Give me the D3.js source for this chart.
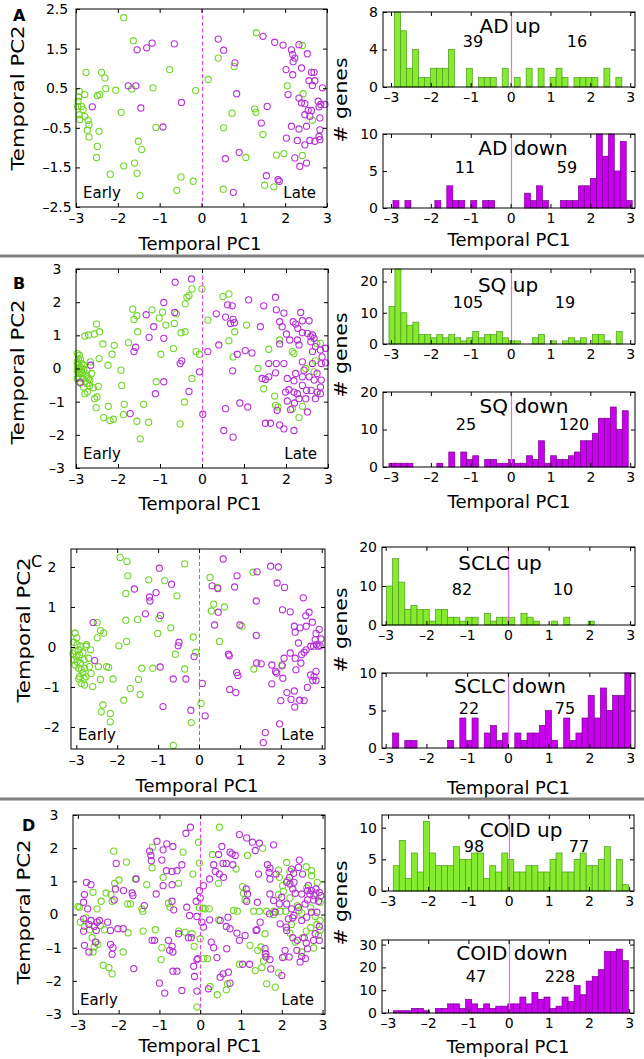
<!DOCTYPE html>
<html><head><meta charset="utf-8">
<script src="https://cdn.jsdelivr.net/npm/d3@7"></script>
<style>body{margin:0;background:#fff} text{font-family:"DejaVu Sans",sans-serif}</style>
</head><body><svg id="c" width="644" height="1059"></svg>
<script>
// ---------------- DATA ----------------
const panelLetters = ["A","B","C","D"];
const histNames = ["AD","SQ","SCLC","COID"];
const upTotals = [[39,16],[105,19],[82,10],[98,77]];
const downTotals = [[11,59],[25,120],[22,75],[47,228]];
const xTicks = [-3,-2,-1,0,1,2,3];
const scatterYTicks = [[2.5,1.5,0.5,-0.5,-1.5,-2.5],[3,2,1,0,-1,-2,-3],[2,1,0,-1,-2],[3,2,1,0,-1,-2,-3]];
const histUpYTicks = [[0,4,8],[0,10,20],[0,10,20],[0,5,10]];
const histDownYTicks = [[0,5,10],[0,10,20],[0,5,10],[0,10,20,30]];
const histUpYMax = [8,24,20,12];
const histDownYMax = [10,20,10,32];
const binWidth = 0.15;
const histUpStart = [-2.91,-3.05,-2.98,-2.87];
const histDownStart = [-2.95,-3.05,-2.98,-2.87];

const histUpA = [8,6,2,4,1,1,2,2,2,4,0,0,2,0,1,1,1,0,2,0,1,0,2,0,2,0,1,2,1,0,1,1,1,1,0,2,0,1,0,0];
const histDownA = [1,0,1,0,0,0,0,1,0,3,1,1,0,1,0,1,1,0,0,0,0,0,2,1,3,1,0,0,1,1,1,3,3,4,10,7,10,5,9,1];
const histUpB = [12,24,10,6,7,3,3,2,3,2,3,2,1,2,4,2,3,3,4,2,1,1,0,0,2,3,0,1,0,1,2,1,2,0,3,3,1,0,4,0];
const histDownB = [1,1,1,1,0,0,0,0,1,0,4,0,4,2,3,0,2,2,1,1,2,1,1,3,2,7,1,3,2,2,3,4,7,7,9,13,13,16,10,15];
const histUpC = [10,17,11,4,5,4,4,1,4,4,2,2,1,2,2,0,3,1,2,2,2,0,3,2,1,0,0,1,0,2,0,0,0,1,0,0,0,0,0,0];
const histDownC = [0,2,0,1,1,0,0,0,0,0,1,0,4,1,4,0,2,3,1,2,0,2,1,2,2,3,5,1,0,4,1,2,4,7,4,8,5,7,7,10];
const histUpD = [4,8,2,6,3,11,6,4,4,4,7,5,5,6,6,2,4,3,6,5,3,3,4,4,3,3,5,6,3,3,5,6,4,4,5,7,0,5,1,0];
const histDownD = [1,1,1,2,2,1,0,2,2,4,4,2,6,4,2,4,2,3,3,4,4,7,4,9,6,7,2,3,7,5,12,8,14,16,19,27,27,28,23,0];

const upA = [[-1.86,2.28],[-1.63,1.70],[-0.76,0.97],[0.16,0.72],[-0.14,0.44],[-1.16,0.51],[-2.05,0.45],[-1.67,0.48],[-2.76,0.90],[-2.39,0.90],[-2.31,0.76],[-2.29,0.49],[-2.43,0.34],[-2.49,0.31],[-2.79,0.34],[-2.92,0.42],[-2.94,0.28],[-2.95,0.17],[-2.87,0.04],[-2.83,-0.04],[-2.96,0.04],[-2.92,-0.17],[-2.91,-0.29],[-2.79,-0.21],[-2.71,-0.31],[-2.69,-0.42],[-2.73,-0.56],[-2.69,-0.73],[-2.45,-0.59],[-2.49,-0.97],[-2.51,-1.25],[-1.51,-0.84],[-1.43,-1.05],[-1.92,-0.11],[-1.09,-0.49],[-1.60,-1.39],[-1.86,-1.46],[-2.18,-1.67],[-1.54,-1.65],[-0.49,-1.74],[-0.20,-1.85],[-0.59,-2.08],[-1.47,-2.21],[1.31,1.90],[2.41,1.58],[0.40,1.26],[0.78,1.05],[0.73,-0.13],[0.53,-0.50],[1.27,-0.02],[1.30,-0.11],[1.47,-0.67],[1.79,-1.19],[1.97,-1.15],[1.51,-1.95],[1.73,-1.99],[0.52,-2.05],[2.05,0.56],[2.43,0.36],[2.65,-0.31],[2.41,-1.20],[1.06,-1.25]];
const downA = [[-1.54,1.47],[-1.31,1.52],[-1.18,1.64],[-0.65,1.62],[-1.75,0.56],[-1.57,0.56],[-2.61,0.03],[-1.45,0.0],[-0.48,0.14],[-0.92,-0.48],[0.40,1.74],[0.53,1.46],[0.80,1.14],[0.84,0.36],[0.90,-1.12],[0.57,-1.28],[0.76,-2.13],[1.55,-1.71],[1.83,-1.81],[1.86,-1.85],[1.57,0.04],[1.43,-0.38],[1.47,1.81],[1.75,1.66],[1.95,1.59],[2.15,1.47],[2.18,1.35],[2.23,1.26],[2.19,1.17],[2.33,1.60],[2.53,1.37],[2.39,1.01],[2.02,0.97],[2.18,0.84],[2.63,0.90],[2.69,0.90],[2.57,0.69],[2.71,0.69],[2.65,0.57],[2.89,0.51],[2.07,0.34],[2.33,0.25],[2.39,0.13],[2.47,0.11],[2.55,-0.06],[2.63,-0.06],[2.79,0.17],[2.85,0.09],[2.95,0.09],[2.81,0.03],[2.47,-0.17],[2.59,-0.21],[2.83,-0.25],[2.15,-0.46],[2.33,-0.53],[2.51,-0.46],[2.83,-0.55],[2.03,-0.76],[2.29,-0.82],[2.47,-0.93],[2.59,-0.82],[2.71,-0.84],[2.81,-0.72],[2.83,-0.80],[2.23,-1.26],[2.35,-1.47],[2.51,-1.39]];

const upB = [[-0.24,2.40],[0.00,2.40],[-0.36,2.15],[-0.31,2.20],[0.50,2.17],[0.64,2.25],[-0.40,1.95],[-1.65,1.79],[-1.19,1.77],[-0.94,1.70],[-0.61,1.65],[-1.02,1.52],[0.14,1.46],[-1.55,1.59],[-1.62,1.48],[-0.86,1.31],[-0.66,1.36],[-1.53,1.11],[-2.51,1.34],[-2.70,1.01],[-2.79,0.98],[-2.56,1.04],[-2.44,1.11],[-0.50,1.08],[-0.40,1.11],[1.06,1.31],[0.78,1.11],[0.64,0.84],[-1.75,0.78],[-2.36,0.74],[-2.09,0.70],[-2.14,0.43],[-0.98,0.43],[-0.68,0.60],[-0.14,0.51],[-0.06,0.43],[-2.45,0.30],[-2.66,0.20],[-2.24,0.10],[-1.93,-0.05],[-1.91,-0.51],[-1.09,-0.40],[-0.24,-0.30],[-2.47,-0.54],[-2.68,-0.51],[-2.50,-0.86],[-2.56,-0.91],[-2.73,-0.71],[-2.79,-0.76],[-2.52,-1.18],[-2.23,-1.14],[-1.85,-1.08],[-1.39,-1.08],[-1.87,-1.39],[-2.34,-1.48],[-2.19,-1.57],[-2.11,-1.53],[-1.55,-1.59],[-1.27,-1.62],[-0.52,-1.67],[-1.47,-2.12],[-0.42,-1.01],[0.74,0.35],[1.33,0.00],[1.47,-0.61],[1.59,0.58],[1.85,0.86],[2.15,0.51],[2.19,0.45],[1.73,-0.83],[1.75,-1.11],[1.81,-1.16],[2.15,-1.21],[2.39,-1.14],[2.31,-1.48],[2.47,0.00],[2.67,-0.10],[2.73,0.76],[2.82,0.76],[2.70,0.23],[-2.97,0.45],[-2.92,0.40],[-2.94,0.30],[-2.89,0.27],[-2.97,0.20],[-2.94,0.15],[-2.86,0.15],[-2.97,0.10],[-2.90,0.05],[-2.82,0.10],[-2.94,0.00],[-2.87,-0.03],[-2.97,-0.05],[-2.90,-0.10],[-2.81,-0.03],[-2.95,-0.15],[-2.86,-0.15],[-2.76,-0.20],[-2.94,-0.25],[-2.84,-0.30],[-2.73,-0.25],[-2.67,-0.35],[-2.78,-0.40],[-2.70,-0.30],[-2.63,-0.15],[-2.74,-0.05],[-2.59,-0.58],[-2.74,-0.45],[-2.82,-0.56],[-2.90,-0.40],[-2.97,-0.30]];
const downB = [[-0.64,2.60],[-0.25,2.70],[-0.91,1.99],[-1.33,1.62],[-0.65,1.69],[-1.15,1.26],[-1.26,0.94],[-0.91,0.91],[-1.58,0.64],[-1.62,0.51],[-0.48,0.23],[-0.52,0.15],[-0.06,-0.10],[-0.91,-0.40],[-1.11,-0.76],[-0.31,-0.69],[-1.71,-1.36],[0.02,-1.38],[-2.65,0.10],[-2.90,-0.43],[0.14,0.51],[0.34,1.65],[0.56,1.55],[0.61,1.92],[0.72,1.89],[0.74,1.48],[0.77,1.38],[0.68,1.36],[1.11,2.07],[1.47,1.89],[1.75,2.15],[1.77,1.77],[1.95,1.67],[1.85,1.41],[1.91,1.26],[1.39,1.26],[2.01,1.04],[1.85,0.74],[2.09,0.86],[2.17,1.41],[2.23,1.34],[2.35,1.69],[2.39,1.44],[2.55,1.44],[2.28,1.21],[2.39,1.08],[2.27,0.86],[2.31,0.71],[2.51,1.06],[2.59,0.96],[2.63,1.01],[2.67,0.91],[2.59,0.81],[2.70,0.66],[2.82,0.56],[2.94,0.61],[2.63,0.51],[2.86,0.35],[2.94,0.17],[2.84,0.15],[2.63,0.15],[2.39,0.20],[2.43,-0.05],[2.23,-0.15],[2.03,-0.30],[2.19,-0.37],[2.39,-0.25],[2.55,-0.25],[2.74,-0.15],[2.84,-0.35],[2.67,-0.35],[2.82,-0.56],[2.74,-0.71],[2.60,-0.66],[2.49,-0.66],[2.39,-0.51],[2.19,-0.71],[2.27,-0.76],[1.99,-0.71],[2.07,-0.64],[2.31,-0.91],[2.47,-0.91],[2.70,-0.91],[2.82,-0.76],[2.03,-0.98],[2.11,-1.24],[1.79,-1.26],[1.95,0.15],[1.77,0.15],[1.59,0.15],[1.75,-0.13],[1.59,-0.25],[1.43,-0.30],[1.51,-0.33],[0.84,0.43],[1.03,0.54],[1.19,0.47],[0.73,-0.07],[0.40,0.71],[0.90,-1.04],[1.09,-1.16],[0.56,-1.21],[1.51,-1.65],[1.63,-1.65],[1.85,-1.70],[1.95,-1.82],[2.19,-1.87],[0.52,-1.87],[0.74,-2.07],[2.51,-1.31],[2.20,-1.04]];

const upC = [[-1.93,2.24],[-1.76,2.14],[-0.35,2.08],[-1.74,1.78],[-1.23,1.68],[-0.84,1.66],[-1.79,1.34],[-0.54,1.28],[0.27,1.74],[0.45,1.49],[0.36,1.07],[0.62,1.00],[0.30,0.90],[1.32,1.87],[1.05,0.52],[-0.98,0.71],[-1.50,0.69],[-1.79,0.67],[-0.69,0.48],[-1.01,0.34],[-0.14,0.25],[0.50,0.14],[-0.08,-0.13],[-0.58,-0.18],[-1.77,0.14],[-1.96,0.03],[-2.49,0.61],[-2.41,0.41],[-2.33,0.35],[-2.49,0.23],[-2.75,0.06],[-2.65,-0.07],[-2.46,-0.49],[-2.60,-0.99],[-2.41,-0.81],[-2.26,-0.49],[-2.21,-0.51],[-2.10,-0.80],[-1.68,-1.04],[-1.48,-0.81],[-1.44,-1.19],[-1.40,-0.53],[-1.13,-0.53],[-0.35,-0.55],[-1.84,-1.33],[-2.35,-1.45],[-2.39,-1.62],[-2.17,-1.66],[-2.17,-1.87],[-0.19,-1.89],[0.05,-1.41],[-0.63,-2.46],[1.34,-0.55],[2.03,-0.44],[-3.03,0.35],[-2.99,0.23],[-3.06,0.12],[-2.98,0.06],[-2.90,0.02],[-2.94,-0.07],[-3.03,-0.11],[-3.08,-0.17],[-3.00,-0.24],[-2.92,-0.19],[-2.84,-0.15],[-3.06,-0.32],[-2.98,-0.36],[-2.90,-0.40],[-2.81,-0.32],[-3.03,-0.45],[-2.94,-0.53],[-2.88,-0.57],[-2.80,-0.53],[-2.76,0.02],[-2.70,-0.28],[-2.84,-0.64],[-2.92,-0.74],[-2.81,-0.78],[-2.94,-0.80],[-2.88,-0.91],[-2.80,-0.95],[-2.76,-0.74],[-2.64,-0.66],[-2.68,-0.49]];
const downC = [[0.59,2.20],[-0.97,1.97],[1.75,2.02],[1.94,2.00],[1.42,1.88],[0.93,1.78],[-0.67,1.57],[-1.58,1.45],[-1.05,1.36],[-1.21,1.25],[-1.20,1.15],[0.32,1.53],[0.46,1.46],[0.87,1.50],[1.91,1.60],[2.09,1.49],[-1.31,0.83],[-0.94,0.79],[0.47,0.87],[1.40,1.15],[2.04,0.93],[2.23,0.88],[2.55,1.23],[2.61,0.78],[2.69,0.87],[2.77,0.62],[0.38,0.55],[1.00,0.55],[1.40,0.29],[2.33,0.52],[2.47,0.48],[2.35,0.37],[2.62,0.52],[2.94,0.44],[2.86,0.34],[2.98,0.20],[2.84,0.18],[2.43,0.10],[2.80,0.02],[2.73,0.02],[2.96,0.03],[2.91,0.02],[2.87,0.06],[2.62,-0.07],[2.57,-0.13],[2.51,-0.19],[2.23,-0.15],[2.08,-0.28],[2.35,-0.28],[2.49,-0.40],[2.03,-0.47],[1.90,-0.65],[1.78,-0.45],[1.87,-0.61],[2.37,-0.57],[2.73,-0.70],[2.81,-0.74],[2.86,-0.61],[2.78,-0.84],[2.86,-0.84],[2.65,-1.01],[2.05,-0.78],[1.78,-0.92],[2.15,-1.14],[2.33,-1.10],[2.46,-1.33],[2.57,-1.34],[2.25,-1.31],[2.34,-1.50],[2.00,-1.34],[1.97,-1.92],[1.62,-2.14],[1.57,-2.39],[0.72,-0.18],[0.74,-0.22],[0.92,-0.64],[0.95,-0.71],[0.75,-1.06],[0.90,-1.14],[1.41,-0.40],[1.52,-0.42],[0.08,-0.91],[0.15,-1.72],[-0.12,-0.24],[-0.49,0.12],[-0.51,0.03],[-0.95,-0.50],[-0.63,-0.80],[-0.32,-0.80],[-0.88,-1.49],[-0.20,-1.58],[-2.59,0.61],[-2.55,-0.34]];

const upD = [[0.47,2.63],[-0.04,2.18],[-1.17,2.03],[-2.12,1.91],[-1.81,1.58],[-0.42,1.88],[0.30,1.81],[1.16,1.78],[1.53,2.00],[-0.02,1.55],[-1.18,1.41],[0.88,1.37],[-0.18,1.22],[-0.91,1.12],[-1.59,1.07],[-1.99,1.04],[-2.10,0.94],[-1.31,0.90],[-0.53,0.94],[0.45,0.94],[1.04,0.84],[-2.63,0.67],[-2.31,0.65],[-2.16,0.40],[-2.43,0.40],[-2.19,0.60],[-1.78,0.32],[-1.71,0.32],[-1.43,0.17],[-1.41,0.10],[-0.78,0.34],[-0.74,0.22],[-2.53,0.17],[-2.96,0.22],[-3.0,0.24],[-2.80,-0.10],[-2.94,-0.23],[-2.84,-0.36],[-2.71,-0.46],[-2.35,-0.46],[-2.45,-0.33],[-2.65,-0.70],[-2.55,-0.83],[-2.60,-0.98],[-2.51,-0.90],[-2.63,-1.13],[-1.89,-1.13],[-2.38,-1.53],[-2.24,-1.60],[-2.16,-1.79],[-1.77,-0.55],[-1.40,-0.50],[-1.10,-0.46],[-0.94,-1.00],[-0.96,-1.36],[-0.53,-0.50],[-0.37,-0.53],[-0.15,-0.96],[-0.20,-0.58],[0.0,-0.73],[-0.08,-2.79],[-0.02,0.20],[0.06,0.19],[0.12,0.17],[0.22,0.17],[0.45,-0.16],[0.08,-1.33],[0.18,-1.33],[0.24,-2.17],[0.42,-2.42],[0.64,-2.27],[0.67,-2.09],[0.96,-1.50],[1.35,-1.69],[1.51,-1.60],[1.63,-2.09],[1.84,-2.19],[1.92,-1.76],[1.55,-1.40],[1.59,-1.18],[1.49,-0.98],[1.10,0.44],[1.06,0.64],[0.91,0.10],[1.31,0.10],[1.45,0.10],[1.63,0.10],[1.81,0.10],[1.96,0.10],[2.10,0.10],[1.92,0.60],[2.02,0.87],[1.94,1.12],[1.92,1.34],[2.12,1.57],[2.20,1.30],[2.14,1.02],[2.04,0.70],[2.20,0.50],[2.38,0.27],[2.42,0.12],[2.49,0.04],[2.60,1.44],[2.73,1.32],[2.73,1.17],[2.87,0.97],[2.61,0.80],[2.84,0.64],[2.94,0.37],[2.71,0.20],[2.82,-0.06],[2.94,-0.18],[2.86,-0.30],[2.71,-0.40],[2.94,-0.48],[2.90,-0.63],[2.60,-0.50],[2.51,-0.70],[2.20,-0.56],[2.33,-0.83],[2.49,-1.13],[2.78,-1.01],[2.06,-1.28],[2.24,-0.30],[1.80,0.0],[1.59,-0.58],[1.41,-1.08],[1.22,-0.93],[0.82,0.12]];
const downD = [[-0.24,2.63],[-0.35,2.45],[0.96,2.41],[1.14,2.31],[1.28,2.18],[1.45,2.15],[1.80,2.10],[-1.06,2.21],[-0.82,2.13],[-0.67,2.05],[-1.24,1.91],[-1.21,1.78],[-0.91,1.95],[0.53,2.05],[0.73,1.88],[0.78,1.83],[0.86,1.78],[0.45,1.81],[1.35,1.93],[-0.94,1.64],[-0.45,1.50],[0.33,1.50],[0.56,1.54],[0.64,1.54],[0.80,1.50],[-2.06,1.54],[-1.20,1.62],[-0.83,1.32],[-0.69,1.30],[-0.57,1.32],[0.37,1.30],[0.47,1.22],[1.65,1.50],[1.71,1.40],[1.86,1.22],[1.43,1.22],[1.69,1.27],[1.71,1.07],[0.57,1.12],[0.23,1.07],[-1.57,1.07],[-2.79,0.97],[-2.68,0.90],[-0.91,0.87],[-0.69,0.90],[0.08,0.87],[-0.02,0.72],[1.13,0.77],[1.16,0.62],[-2.84,0.60],[-2.08,0.77],[-1.88,0.72],[-1.67,0.65],[-1.65,0.57],[-2.11,0.44],[-1.08,0.62],[-0.69,0.40],[-2.86,0.37],[-2.76,0.17],[-1.37,0.27],[-0.65,0.14],[-0.33,0.22],[-0.10,0.40],[0.0,0.50],[-0.26,-0.03],[-0.08,-0.06],[-2.86,-0.13],[-2.68,-0.18],[-2.53,-0.23],[-2.47,-0.18],[-2.73,-0.30],[-2.60,-0.36],[-2.86,-0.50],[-2.55,-0.48],[-2.20,-0.48],[-2.02,-0.43],[-1.89,-0.43],[-2.27,-0.23],[-2.84,-0.93],[-2.73,-1.13],[-2.57,-0.83],[-2.20,-0.90],[-2.14,-1.00],[-2.16,-1.20],[-1.63,-1.63],[-1.18,-0.78],[-1.12,-0.78],[-0.78,-0.78],[-0.69,-0.96],[-0.75,-1.08],[-0.67,-1.13],[-0.53,-0.58],[-0.29,-0.70],[-0.22,-0.70],[-1.00,-2.07],[-0.87,-2.37],[-0.45,-2.29],[-0.67,-1.71],[-0.57,-1.71],[-0.16,-1.56],[-0.14,-1.87],[-0.08,-2.31],[-0.06,-1.33],[-0.08,-1.36],[0.04,-0.23],[0.08,-0.38],[0.23,-0.16],[0.27,-0.83],[0.33,-1.00],[0.41,-1.30],[0.20,-2.24],[0.49,-1.89],[0.56,-1.79],[0.69,-1.74],[0.73,-2.07],[0.65,-1.03],[0.64,-0.36],[0.73,-0.43],[0.90,-0.56],[0.96,-0.78],[1.10,-0.63],[1.21,-1.50],[1.04,-1.50],[1.39,-0.46],[1.37,-0.48],[1.47,-0.23],[1.59,-1.03],[1.61,-1.18],[1.71,-1.36],[1.61,-1.28],[1.73,-1.64],[2.00,-1.84],[1.70,0.02],[1.84,0.07],[1.96,-0.28],[2.11,-0.38],[2.16,-0.13],[2.12,-0.48],[2.27,-0.70],[2.38,-0.78],[2.55,-0.70],[2.60,-0.86],[2.63,-1.03],[2.49,-1.26],[2.58,-1.33],[2.45,-1.43],[2.18,-1.28],[2.02,-1.30],[2.08,-1.08],[2.37,-1.08],[2.78,-0.78],[2.92,-0.78],[2.82,-0.58],[2.92,-0.36],[2.86,0.07],[2.73,0.07],[2.61,-0.08],[2.49,-0.18],[2.30,-0.03],[2.27,-0.10],[2.41,0.22],[2.24,0.17],[2.57,0.32],[2.63,0.44],[2.78,0.44],[2.90,0.40],[2.96,0.57],[2.92,0.67],[2.84,0.77],[2.73,0.72],[2.65,0.87],[2.63,0.72],[2.69,0.62],[2.79,0.57],[2.49,0.62],[2.33,0.64],[2.27,0.77],[2.20,0.92],[2.30,0.97],[2.19,1.12],[2.29,1.24],[2.24,1.37],[2.41,1.42],[2.51,1.22],[2.43,1.64],[2.12,0.97],[2.00,0.52],[1.94,0.32],[2.12,0.32],[1.71,0.62],[1.80,0.42],[1.40,0.37],[1.14,0.40],[0.68,-0.08],[0.49,-0.18]];

const scatterUp = [upA, upB, upC, upD];
const scatterDown = [downA, downB, downC, downD];
const histUp = [histUpA, histUpB, histUpC, histUpD];
const histDown = [histDownA, histDownB, histDownC, histDownD];

// ---------------- LAYOUT / STYLE ----------------
const COL = {
  green: "#72d628", magenta: "#b82fd8",
  gFill: "#86ea2e", gEdge: "#4c9a1c",
  mFill: "#c800ee", mEdge: "#7a0090",
  dash: "#f040d8", zero: "#e070e8"
};
const layout = [
  {sc:{l:76,r:327,t:9,b:207,xd:[-3,3],yd:[-2.5,2.5]}, ylab:{x:24,y:98}, xlabY:250, xlabX:200, pl:{x:13,y:21,bold:true},
   hl:{l:383,r:635}, hxd:[-3.2,3.12], hu:{t:12,b:87}, hd:{t:134,b:208}, genesY:100, hxlabY:246,
   tu:{x:510,y:33}, nu:{y:47,x:[473,577]}, td:{x:523,y:155}, nd:{y:173,x:[465,567]}},
  {sc:{l:76,r:328,t:269,b:468,xd:[-3,3],yd:[-3,3]}, ylab:{x:24,y:372}, xlabY:510, xlabX:200, pl:{x:13,y:289,bold:true},
   hl:{l:383,r:635}, hxd:[-3.2,3.12], hu:{t:269,b:344}, hd:{t:392,b:467}, genesY:355, hxlabY:508,
   tu:{x:508,y:292}, nu:{y:308,x:[468,565]}, td:{x:524,y:413}, nd:{y:430,x:[466,574]}},
  {sc:{l:71,r:325,t:549,b:749,xd:[-3.13,3.08],yd:[-2.55,2.45]}, ylab:{x:30,y:630}, xlabY:792, xlabX:197, pl:{x:31,y:567,bold:false},
   hl:{l:382,r:635}, hxd:[-3.09,3.12], hu:{t:547,b:625}, hd:{t:673,b:748}, genesY:630, hxlabY:794,
   tu:{x:500,y:570}, nu:{y:595,x:[462,563]}, td:{x:510,y:693}, nd:{y:714,x:[469,565]}},
  {sc:{l:73,r:325,t:815,b:1014,xd:[-3.12,3.06],yd:[-3,3]}, ylab:{x:30,y:912}, xlabY:1052, xlabX:200, pl:{x:22,y:831,bold:true},
   hl:{l:382,r:634}, hxd:[-3.15,3.12], hu:{t:815,b:891}, hd:{t:940,b:1013}, genesY:903, hxlabY:1053,
   tu:{x:521,y:837}, nu:{y:852,x:[474,579]}, td:{x:512,y:960}, nd:{y:982,x:[476,560]}}
];
const separators = [256, 799];

const svg = d3.select("#c");
const fmt = d => (d < 0 ? "\u2013" : "") + Math.abs(d);
const crisp = v => Math.round(v) + 0.5;

function frame(g, x, y, l, r, t, b, xt, yt, xPad, yLabelMode) {
  const ax = (gen, tr) => g.append("g").attr("transform", tr).call(gen)
      .call(s => s.select(".domain").remove())
      .call(s => s.selectAll("line").attr("stroke", "#000"))
      .call(s => s.selectAll("text").attr("font-family", "DejaVu Sans").attr("font-size", 14).attr("fill", "#000"))
      .attr("font-family", null).attr("font-size", null);
  ax(d3.axisBottom(x).tickValues(xt).tickFormat(fmt).tickSize(-4).tickPadding(xPad), `translate(0,${b})`);
  ax(d3.axisTop(x).tickValues(xt).tickFormat("").tickSize(-4), `translate(0,${t})`);
  const la = ax(d3.axisLeft(y).tickValues(yt).tickFormat(fmt).tickSize(-4).tickPadding(5), `translate(${l},0)`);
  if (yLabelMode === "center") la.selectAll("text").attr("text-anchor", "middle").attr("x", -19);
  ax(d3.axisRight(y).tickValues(yt).tickFormat("").tickSize(-4), `translate(${r},0)`);
  g.append("rect").attr("x", l).attr("y", t).attr("width", r - l).attr("height", b - t)
    .attr("fill", "none").attr("stroke", "#000").attr("stroke-width", 1);
}

layout.forEach((L, k) => {
  const g = svg.append("g");
  // ---- scatter ----
  const S = L.sc;
  const x = d3.scaleLinear().domain(S.xd).range([S.l, S.r]);
  const y = d3.scaleLinear().domain(S.yd).range([S.b, S.t]);
  g.append("g").selectAll("circle").data(scatterUp[k]).join("circle")
    .attr("cx", d => x(d[0])).attr("cy", d => y(d[1])).attr("r", 3.1)
    .attr("fill", "none").attr("stroke", COL.green).attr("stroke-width", 1.1);
  g.append("g").selectAll("circle").data(scatterDown[k]).join("circle")
    .attr("cx", d => x(d[0])).attr("cy", d => y(d[1])).attr("r", 3.1)
    .attr("fill", "none").attr("stroke", COL.magenta).attr("stroke-width", 1.1);
  g.append("line").attr("x1", crisp(x(0))).attr("x2", crisp(x(0))).attr("y1", S.t).attr("y2", S.b)
    .attr("stroke", COL.dash).attr("stroke-width", 1).attr("stroke-dasharray", "4,2.5");
  frame(g, x, y, S.l, S.r, S.t, S.b, xTicks, scatterYTicks[k], 6, "center");
  g.append("text").attr("x", S.l + 7).attr("y", S.b - 9).attr("font-size", 15).text("Early");
  g.append("text").attr("x", S.r - 11).attr("y", S.b - 9).attr("font-size", 15).attr("text-anchor", "end").text("Late");
  g.append("text").attr("x", L.xlabX).attr("y", L.xlabY).attr("font-size", 18).attr("text-anchor", "middle").text("Temporal PC1");
  g.append("text").attr("transform", `translate(${L.ylab.x},${L.ylab.y}) rotate(-90)`)
    .attr("font-size", 18).attr("text-anchor", "middle")
    .attr("textLength", 145).attr("lengthAdjust", "spacingAndGlyphs").text("Temporal PC2");
  g.append("text").attr("x", L.pl.x).attr("y", L.pl.y).attr("font-size", 16)
    .attr("font-weight", L.pl.bold ? "bold" : "normal").text(panelLetters[k]);

  // ---- histograms ----
  const hx = d3.scaleLinear().domain(L.hxd).range([L.hl.l, L.hl.r]);
  const hists = [
    {box: L.hu, counts: histUp[k], start: histUpStart[k], ymax: histUpYMax[k], yt: histUpYTicks[k], fill: COL.gFill, edge: COL.gEdge,
     title: histNames[k] + " up", tp: L.tu, np: L.nu, nums: upTotals[k]},
    {box: L.hd, counts: histDown[k], start: histDownStart[k], ymax: histDownYMax[k], yt: histDownYTicks[k], fill: COL.mFill, edge: COL.mEdge,
     title: histNames[k] + " down", tp: L.td, np: L.nd, nums: downTotals[k]}
  ];
  hists.forEach(H => {
    const hy = d3.scaleLinear().domain([0, H.ymax]).range([H.box.b, H.box.t]);
    const bins = H.counts.map((c, i) => ({x0: H.start + i * binWidth, x1: H.start + (i + 1) * binWidth, c})).filter(d => d.c > 0);
    g.append("g").selectAll("rect").data(bins).join("rect")
      .attr("x", d => hx(d.x0)).attr("width", d => hx(d.x1) - hx(d.x0))
      .attr("y", d => hy(Math.min(d.c, H.ymax))).attr("height", d => hy(0) - hy(Math.min(d.c, H.ymax)))
      .attr("fill", H.fill).attr("stroke", H.edge).attr("stroke-width", 0.7);
    g.append("line").attr("x1", crisp(hx(0))).attr("x2", crisp(hx(0))).attr("y1", H.box.t).attr("y2", H.box.b)
      .attr("stroke", COL.zero).attr("stroke-width", 1.2);
    frame(g, hx, hy, L.hl.l, L.hl.r, H.box.t, H.box.b, xTicks, H.yt, 5, "end");
    g.append("text").attr("x", H.tp.x).attr("y", H.tp.y).attr("font-size", 20).attr("text-anchor", "middle").text(H.title);
    H.nums.forEach((n, j) => g.append("text").attr("x", H.np.x[j]).attr("y", H.np.y)
      .attr("font-size", 16).attr("text-anchor", "middle").text(n));
  });
  g.append("text").attr("x", (L.hl.l + L.hl.r) / 2).attr("y", L.hxlabY).attr("font-size", 18).attr("text-anchor", "middle").text("Temporal PC1");
  g.append("text").attr("transform", `translate(347,${L.genesY}) rotate(-90)`)
    .attr("font-size", 18).attr("text-anchor", "middle")
    .attr("textLength", 85).attr("lengthAdjust", "spacingAndGlyphs").text("# genes");
});

separators.forEach(yy => svg.append("line").attr("x1", 0).attr("x2", 644).attr("y1", yy).attr("y2", yy)
  .attr("stroke", "#808080").attr("stroke-width", 3));
</script></body></html>
